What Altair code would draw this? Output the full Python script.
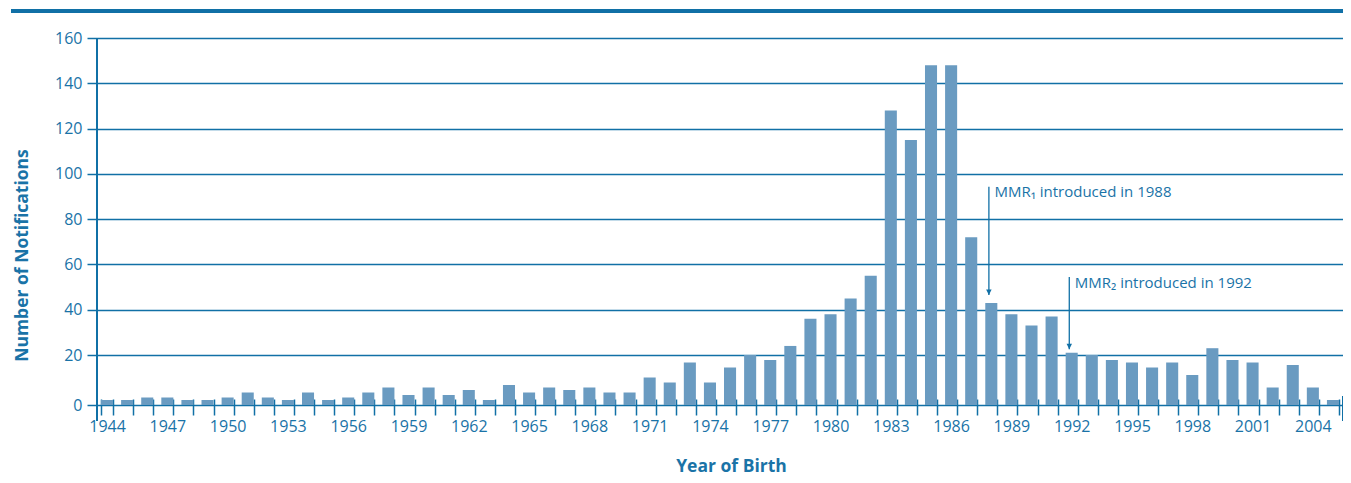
import altair as alt
import pandas as pd

YEARS = list(range(1944, 2006))
COUNTS = [2, 2, 3, 3, 2, 2, 3, 5, 3, 2, 5, 2, 3, 5, 7, 4, 7,
          4, 6, 2, 8, 5, 7, 6, 7, 5, 5, 11, 9, 17, 9, 15, 20, 18, 24, 36, 38, 45, 55,
          128, 115, 148, 148, 72, 43, 38, 33, 37, 21, 20, 18, 17, 15, 17, 12, 23, 18, 17, 7, 16, 7, 2]

ANN_YEARS = [1988, 1992]
ANN_TOP = [94.3, 54.4]
ANN_TIP = [46.5, 22.5]
ANN_TEXT_Y = [89.7, 49.6]
ANN_TEXT = ["MMR\u2081 introduced in 1988", "MMR\u2082 introduced in 1992"]

Y_TICKS = [0, 20, 40, 60, 80, 100, 120, 140, 160]

LINE = "#1170a6"
TEXT = "#1a73a7"
BAR = "#6a9bc1"
FONT = "Open Sans"

W, H = 1246, 367
PAD_L = 89

bars_df = pd.DataFrame({"year": YEARS, "count": COUNTS})
ann_df = pd.DataFrame({"year": ANN_YEARS, "top": ANN_TOP, "tip": ANN_TIP,
                       "ty": ANN_TEXT_Y, "label": ANN_TEXT})

xscale = alt.Scale(domain=YEARS, paddingInner=0.4, paddingOuter=0.2)
yscale = alt.Scale(domain=[0, 20, 160], range=[H, H - 50, 0])

bars = alt.Chart(bars_df).mark_bar(color=BAR).encode(
    x=alt.X("year:O", scale=xscale,
            axis=alt.Axis(title="Year of Birth", labelAngle=0, tickBand="extent",
                          labelExpr="(datum.value - 1944) % 3 == 0 ? datum.label : ''",
                          labelOverlap=False, domain=False, offset=-6, tickSize=16,
                          labelPadding=3, titleBaseline="alphabetic", titleX=731 - 8 - PAD_L,
                          titleY=72, titleAnchor="middle", titleAlign="center")),
    y=alt.Y("count:Q", scale=yscale,
            axis=alt.Axis(title="Number of Notifications", values=Y_TICKS, grid=True,
                          domain=False, tickSize=10, labelPadding=5,
                          titleBaseline="alphabetic", titleX=27 - 8 - PAD_L, titleY=217,
                          titleAngle=-90, titleAlign="center")),
)

arrows = alt.Chart(ann_df).mark_rule(color=LINE, strokeWidth=1.3).encode(
    x=alt.X("year:O", scale=xscale, bandPosition=0.3),
    y=alt.Y("top:Q", scale=yscale),
    y2="tip:Q",
)

heads = alt.Chart(ann_df).mark_point(
    shape="M-1,-2L1,-2L0,0Z", size=30, filled=True, color=LINE, opacity=1
).encode(
    x=alt.X("year:O", scale=xscale, bandPosition=0.3),
    y=alt.Y("tip:Q", scale=yscale),
)

labels = alt.Chart(ann_df).mark_text(
    align="left", baseline="alphabetic", dx=5.5, color=TEXT, font=FONT, fontSize=15
).encode(
    x=alt.X("year:O", scale=xscale, bandPosition=0.3),
    y=alt.Y("ty:Q", scale=yscale),
    text="label:N",
)

yline = alt.Chart(bars_df).mark_rule(color=LINE, strokeWidth=1.5).encode(
    x=alt.value(0), y=alt.value(0), y2=alt.value(H + 16)
)
rline = alt.Chart(bars_df).mark_rule(color=LINE, strokeWidth=1.5).encode(
    x=alt.value(W), y=alt.value(H - 9), y2=alt.value(H + 16)
)
topline = alt.Chart(bars_df).mark_rule(color=LINE, strokeWidth=3).encode(
    x=alt.value(11 - 8 - PAD_L), x2=alt.value(W), y=alt.value(-27)
)

chart = alt.layer(bars, arrows, heads, labels, yline, rline, topline).properties(
    width=W, height=H,
    autosize=alt.AutoSizeParams(type="none"),
    padding={"left": PAD_L, "top": 30, "right": 0, "bottom": 75},
).configure_view(stroke=None).configure_axis(
    labelFont=FONT, labelFontSize=16, labelColor=TEXT,
    titleFont=FONT, titleFontSize=17.5, titleFontWeight="bold", titleColor=TEXT,
    tickColor=LINE, tickWidth=1.5, gridColor=LINE, gridWidth=1.5, gridOpacity=1,
    domainColor=LINE,
)

chart.save("out.html", embed_options={"renderer": "svg", "actions": False})
